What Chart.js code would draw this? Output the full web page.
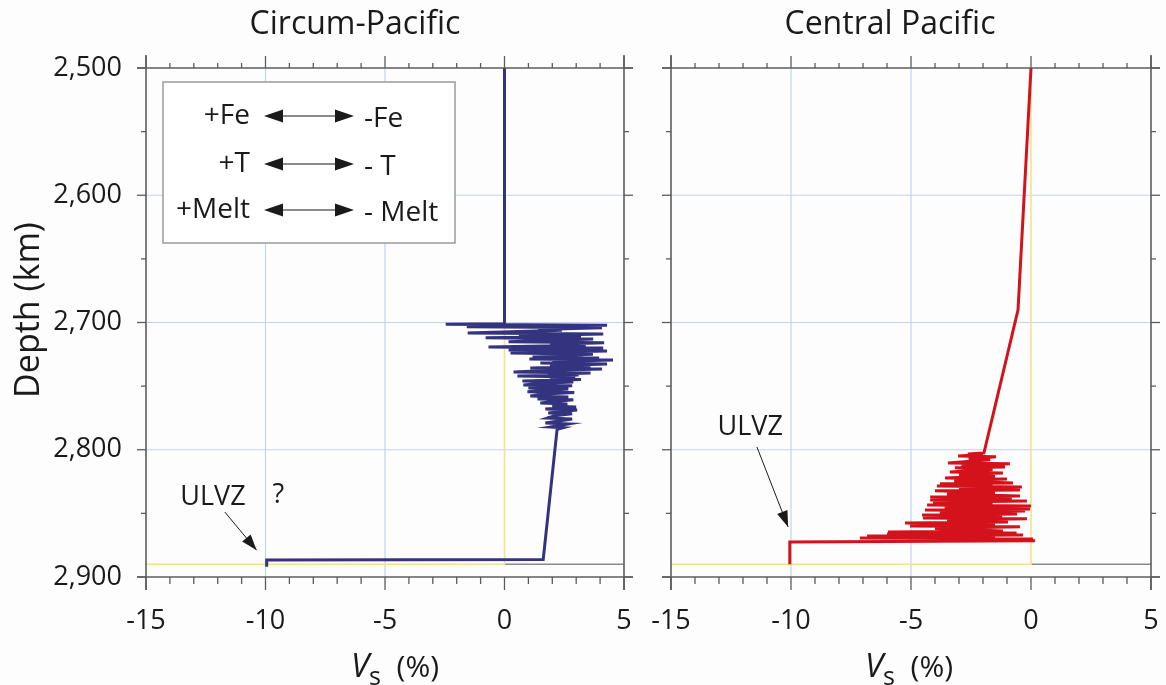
<!DOCTYPE html>
<html>
<head>
<meta charset="utf-8">
<title>Vs profiles near the CMB</title>
<script src="https://cdn.jsdelivr.net/npm/chart.js@4.4.1/dist/chart.umd.min.js"></script>
<style>
  html, body { margin: 0; padding: 0; background: #fdfdfd; }
  #wrap { position: relative; width: 1166px; height: 685px; overflow: hidden; }
  canvas { position: absolute; top: 0; }
  #left { left: 0; }
  #right { left: 640px; }
</style>
</head>
<body>
<div id="wrap">
  <canvas id="left" width="640" height="685"></canvas>
  <canvas id="right" width="526" height="685"></canvas>
</div>
<script>
// axis values
const depthTicks = [2500, 2600, 2700, 2800, 2900];
const vsTicks = [-15, -10, -5, 0, 5];
const depthGrid = [2600, 2700, 2800];
const vsGrid = [-10, -5];

// PREM reference (yellow) and the grey CMB segment
const premVs = [0, 0, -15];
const premDepth = [2500, 2890, 2890];
const cmbVs = [0, 5];
const cmbDepth = [2890, 2890];

// Circum-Pacific profile
const circumVs = [
  0, 0,
  -2.46, 4.29, -1.58, 4.08, 1.4, 2.4, -1.54, 4.13, 0.6, 3.2, -0.79, 3.71,
  0.17, 4.17, 1.9, 3.4, -0.67, 4.13, 0.17, 4.29, 0.25, 3.70, 1.8, 3.3,
  1.17, 3.96, 1.04, 4.54, 2.0, 3.5, 1.50, 4.29, 1.9, 3.6, 1.08, 4.08,
  2.1, 0.38, 3.6, 1.8, 3.1, 0.54, 2.96, 1.9, 3.2, 0.75, 2.88, 1.6,
  0.79, 2.83, 1.00, 2.67, 0.96, 2.92, 1.7, 1.08, 2.67, 1.38, 2.88, 1.50,
  2.63, 2.0, 3.0, 1.71, 3.04, 1.83, 2.83, 2.1, 1.79, 2.83, 1.71, 2.67,
  1.92, 2.46, 2.2,
  1.62, -9.95, -9.95
];
const circumDepth = [
  2500, 2701,
  2701.4, 2702.2, 2703.3, 2704.2, 2705.5, 2706.0, 2708.3, 2709.0, 2710.4, 2711.0, 2712.0, 2712.9,
  2715.1, 2715.9, 2717.0, 2717.8, 2719.3, 2720.0, 2721.6, 2722.4, 2724.0, 2724.9, 2725.9, 2726.4,
  2727.2, 2727.9, 2728.7, 2729.5, 2730.6, 2731.2, 2731.9, 2732.7, 2734.0, 2734.8, 2735.7, 2736.5,
  2737.6, 2738.9, 2739.6, 2740.6, 2741.2, 2742.0, 2742.8, 2744.0, 2744.8, 2746.0, 2746.8, 2747.8,
  2749.1, 2749.8, 2751.5, 2752.2, 2754.4, 2755.1, 2756.2, 2757.8, 2758.5, 2760.1, 2760.8, 2763.3,
  2764.0, 2765.8, 2766.4, 2768.0, 2768.7, 2771.1, 2771.8, 2773.2, 2775.1, 2775.8, 2779.0, 2779.7,
  2782.1, 2782.7, 2784.0,
  2886.3, 2886.6, 2892
];

// Central Pacific profile
const centralVs = [
  0, -0.54, -1.96,
  -2.63, -2.0, -3.04, -1.46, -2.6, -1.7, -3.46, -0.88, -2.9, -1.08, -3.17, -1.6,
  -3.38, -1.17, -3.0, -1.5, -3.58, -1.0, -3.2, -0.75, -3.79, -1.6, -3.92, -0.38,
  -3.0, -0.46, -4.0, -1.5, -3.5, -0.46, -4.2, -0.8, -4.2, -0.17, -4.08, -1.6,
  -4.33, 0.0, -3.6, -0.04, -4.42, -0.25, -3.8, -0.58, -4.54, -1.2, -4.5, -0.17,
  -3.5, -0.96, -5.25, -1.5, -5.04, -0.46, -4.0, -1.17, -5.96, -0.6, -6.0, -0.33,
  -6.83, -1.5, -7.13, 0.08, -5.0, 0.17,
  -10.05, -10.05
];
const centralDepth = [
  2500, 2690, 2802.5,
  2803.3, 2803.8, 2804.9, 2805.5, 2807.0, 2807.8, 2810.4, 2811.0, 2812.2, 2813.6, 2814.2, 2815.6,
  2817.5, 2818.3, 2819.5, 2820.6, 2822.2, 2823.0, 2824.4, 2826.1, 2826.8, 2827.6, 2828.5, 2829.2,
  2830.4, 2831.6, 2832.3, 2833.6, 2834.8, 2836.3, 2837.1, 2838.4, 2839.5, 2840.3, 2841.2, 2842.2,
  2843.4, 2844.2, 2845.0, 2846.6, 2847.4, 2848.1, 2849.2, 2850.5, 2851.2, 2852.0, 2853.6, 2854.3,
  2855.3, 2856.8, 2857.6, 2858.6, 2859.9, 2860.6, 2861.8, 2863.9, 2864.6, 2865.5, 2866.2, 2867.0,
  2867.8, 2868.6, 2869.4, 2870.1, 2870.9, 2871.5,
  2872.5, 2890
];

const FONT = '"Open Sans", "Noto Sans", sans-serif';
const AXIS = '#5c5c5c';

const pts = (xs, ys) => xs.map((v, i) => ({ x: v, y: ys[i] }));

function arrowHead(ctx, x0, y0, x1, y1, len, half) {
  const ang = Math.atan2(y1 - y0, x1 - x0);
  ctx.beginPath();
  ctx.moveTo(x1, y1);
  ctx.lineTo(x1 - len * Math.cos(ang) + half * Math.sin(ang), y1 - len * Math.sin(ang) - half * Math.cos(ang));
  ctx.lineTo(x1 - len * Math.cos(ang) - half * Math.sin(ang), y1 - len * Math.sin(ang) + half * Math.cos(ang));
  ctx.closePath();
  ctx.fill();
}

function line(ctx, x0, y0, x1, y1) {
  ctx.beginPath();
  ctx.moveTo(x0, y0);
  ctx.lineTo(x1, y1);
  ctx.stroke();
}

const panelFrame = {
  id: 'panelFrame',
  beforeDatasetsDraw(chart) {
    const { ctx, chartArea: a, scales: { x, y } } = chart;
    ctx.save();
    ctx.strokeStyle = '#c4d3ef';
    ctx.lineWidth = 1.2;
    vsGrid.forEach(v => {
      const px = x.getPixelForValue(v);
      line(ctx, px, a.top, px, a.bottom);
    });
    depthGrid.forEach(d => {
      const py = y.getPixelForValue(d);
      line(ctx, a.left, py, a.right, py);
    });
    ctx.restore();
  },
  afterDraw(chart, args, opts) {
    const { ctx, chartArea: a, scales: { x, y } } = chart;
    ctx.save();

    // frame, extended a little past the corners
    ctx.strokeStyle = AXIS;
    ctx.lineWidth = 1.6;
    line(ctx, a.left - 9, a.top, a.right + 9, a.top);
    line(ctx, a.left - 9, a.bottom, a.right + 9, a.bottom);
    line(ctx, a.left, a.top - 13, a.left, a.bottom + 13);
    line(ctx, a.right, a.top - 13, a.right, a.bottom + 13);

    // ticks point outward
    ctx.lineWidth = 1.3;
    for (let v = vsTicks[0]; v <= vsTicks[vsTicks.length - 1]; v++) {
      const px = x.getPixelForValue(v);
      const major = v % 5 === 0;
      line(ctx, px, a.bottom, px, a.bottom + (major ? 13 : 7));
      line(ctx, px, a.top, px, a.top - (major ? 12 : 5));
    }
    for (let d = depthTicks[0]; d <= depthTicks[depthTicks.length - 1]; d += 50) {
      const py = y.getPixelForValue(d);
      const major = d % 100 === 0;
      line(ctx, a.left, py, a.left - (major ? 9 : 5), py);
      line(ctx, a.right, py, a.right + (major ? 9 : 5), py);
    }

    ctx.fillStyle = '#1a1a1a';
    ctx.textBaseline = 'middle';

    // x tick labels
    ctx.font = `27px ${FONT}`;
    ctx.textAlign = 'center';
    vsTicks.forEach(v => {
      ctx.fillText(v < 0 ? '-' + Math.abs(v) : String(v), x.getPixelForValue(v), a.bottom + 44);
    });

    // x axis title: V_s (%)
    const xc = opts.xTitleX;
    ctx.textBaseline = 'alphabetic';
    ctx.font = `italic 33px ${FONT}`;
    const wV = ctx.measureText('V').width;
    ctx.font = `25px ${FONT}`;
    const wS = ctx.measureText('s').width;
    ctx.font = `30px ${FONT}`;
    const wP = ctx.measureText('  (%)').width;
    let sx = xc - (wV + wS + wP) / 2;
    ctx.textAlign = 'left';
    ctx.font = `italic 33px ${FONT}`;
    ctx.fillText('V', sx, 677);
    ctx.font = `25px ${FONT}`;
    ctx.fillText('s', sx + wV, 685);
    ctx.font = `30px ${FONT}`;
    ctx.fillText('  (%)', sx + wV + wS, 677);

    // panel title
    ctx.textAlign = 'center';
    ctx.textBaseline = 'middle';
    ctx.font = `32px ${FONT}`;
    ctx.fillText(opts.title, opts.titleX, 25);

    if (opts.depthLabels) {
      ctx.font = `27px ${FONT}`;
      ctx.textAlign = 'right';
      depthTicks.forEach(d => {
        ctx.fillText(d.toLocaleString('en-US'), a.left - 24, y.getPixelForValue(d));
      });
      ctx.save();
      ctx.translate(29, 310);
      ctx.rotate(-Math.PI / 2);
      ctx.textAlign = 'center';
      ctx.font = `34px ${FONT}`;
      ctx.fillText('Depth (km)', 0, 0);
      ctx.restore();
    }

    if (opts.key) {
      // box explaining the sense of each trade-off
      const bx = a.left + 17, by = a.top + 14, bw = 292, bh = 161;
      ctx.fillStyle = '#ffffff';
      ctx.fillRect(bx, by, bw, bh);
      ctx.strokeStyle = '#9a9a9a';
      ctx.lineWidth = 1.5;
      ctx.strokeRect(bx, by, bw, bh);
      ctx.fillStyle = '#1a1a1a';
      ctx.strokeStyle = '#1a1a1a';
      ctx.lineWidth = 1.2;
      ctx.font = `28px ${FONT}`;
      const rows = [['+Fe', '-Fe', 116], ['+T', '- T', 164], ['+Melt', '- Melt', 210]];
      rows.forEach(([plus, minus, ry]) => {
        ctx.textAlign = 'right';
        ctx.fillText(plus, 250, ry);
        ctx.textAlign = 'left';
        ctx.fillText(minus, 364, ry + 3);
        line(ctx, 270, ry, 348, ry);
        arrowHead(ctx, 300, ry, 264, ry, 19, 6.5);
        arrowHead(ctx, 318, ry, 354, ry, 19, 6.5);
      });
    }

    // ULVZ pointer
    const u = opts.ulvz;
    ctx.fillStyle = '#1a1a1a';
    ctx.strokeStyle = '#1a1a1a';
    ctx.lineWidth = 1;
    ctx.font = `27px ${FONT}`;
    ctx.textAlign = 'center';
    ctx.fillText('ULVZ', x.getPixelForValue(u.text[0]), y.getPixelForValue(u.text[1]));
    const x0 = x.getPixelForValue(u.from[0]), y0 = y.getPixelForValue(u.from[1]);
    const x1 = x.getPixelForValue(u.to[0]), y1 = y.getPixelForValue(u.to[1]);
    line(ctx, x0, y0, x1, y1);
    arrowHead(ctx, x0, y0, x1, y1, 16, 5.5);
    if (u.query) {
      ctx.fillText('?', x.getPixelForValue(u.query[0]), y.getPixelForValue(u.query[1]));
    }

    ctx.restore();
  }
};

function makePanel(id, profile, color, padding, opts) {
  // Chart.js paints dataset 0 last, so the profile goes first to sit on top
  return new Chart(document.getElementById(id), {
    type: 'scatter',
    data: {
      datasets: [
        { data: profile, borderColor: color, borderWidth: 3 },
        { data: pts(premVs, premDepth), borderColor: '#f9df8e', borderWidth: 1.6 },
        { data: pts(cmbVs, cmbDepth), borderColor: '#8a8a8a', borderWidth: 1.4 }
      ].map(ds => Object.assign(ds, { showLine: true, pointRadius: 0, tension: 0, fill: false }))
    },
    options: {
      responsive: false,
      animation: false,
      devicePixelRatio: 1,
      layout: { padding },
      plugins: { legend: { display: false }, tooltip: { enabled: false }, panelFrame: opts },
      scales: {
        x: { type: 'linear', min: -15, max: 5, display: false },
        y: { type: 'linear', min: 2500, max: 2900, reverse: true, display: false }
      }
    },
    plugins: [panelFrame]
  });
}

makePanel('left', pts(circumVs, circumDepth), '#33337f',
  { left: 146, right: 16, top: 68, bottom: 108 },
  {
    title: 'Circum-Pacific', titleX: 355, xTitleX: 395, depthLabels: true, key: true,
    ulvz: { text: [-12.2, 2837], from: [-11.7, 2849], to: [-10.37, 2879], query: [-9.46, 2835.6] }
  });

makePanel('right', pts(centralVs, centralDepth), '#d3121c',
  { left: 31, right: 15, top: 68, bottom: 108 },
  {
    title: 'Central Pacific', titleX: 250, xTitleX: 269, depthLabels: false, key: false,
    ulvz: { text: [-11.7, 2782.5], from: [-11.42, 2797.8], to: [-10.12, 2860.7] }
  });
</script>
</body>
</html>
